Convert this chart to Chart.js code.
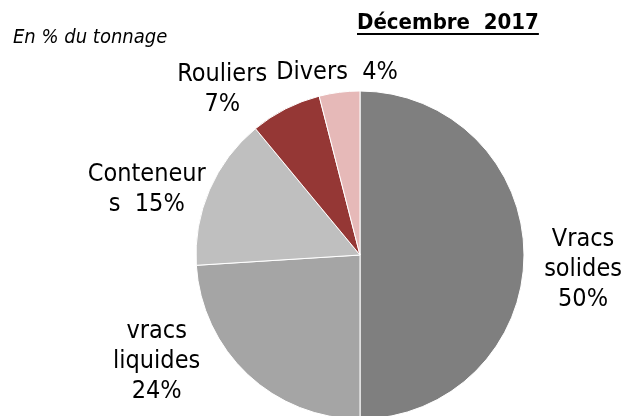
<!DOCTYPE html>
<html>
<head>
<meta charset="utf-8">
<script src="https://cdn.jsdelivr.net/npm/chart.js@4/dist/chart.umd.min.js"></script>
<style>
  html, body { margin: 0; padding: 0; background: #fff; }
  #wrap { position: relative; width: 628px; height: 416px; overflow: hidden; }
</style>
</head>
<body>
<div id="wrap"><canvas id="pie" width="628" height="416"></canvas></div>
<script>
// données : répartition du trafic, décembre 2017
const categories = ['Vracs solides', 'vracs liquides', 'Conteneurs', 'Rouliers', 'Divers'];
const shares = [50, 24, 15, 7, 4];
// découpage des étiquettes comme dans l'original ({v} = pourcentage)
const labelLines = [
    ['Vracs', 'solides', '{v}'],
    ['vracs', 'liquides', '{v}'],
    ['Conteneur', 's  {v}'],
    ['Rouliers', '{v}'],
    ['Divers  {v}']
];
const sliceColors = ['#7f7f7f', '#a5a5a5', '#bfbfbf', '#953735', '#e6b9b8'];

// position des étiquettes, en multiples du rayon par rapport au centre
const labelPos = [[1.36, 0.09], [-1.24, 0.65], [-1.30, -0.40], [-0.84, -1.01], [-0.14, -1.11]];
const FONT = '"DejaVu Sans Condensed", "DejaVu Sans", sans-serif';

const sliceLabels = {
    id: 'sliceLabels',
    afterDatasetsDraw(chart) {
        const ctx = chart.ctx;
        const arcs = chart.getDatasetMeta(0).data;
        ctx.save();
        ctx.fillStyle = '#000';
        ctx.font = '25px ' + FONT;
        ctx.textAlign = 'center';
        ctx.textBaseline = 'middle';
        arcs.forEach((arc, i) => {
            const lines = labelLines[i].map(l => l.replace('{v}', shares[i] + '%'));
            const cx = arc.x + labelPos[i][0] * arc.outerRadius;
            const cy = arc.y + labelPos[i][1] * arc.outerRadius;
            const lh = 30;
            lines.forEach((l, k) => {
                ctx.fillText(l, cx, cy + (k - (lines.length - 1) / 2) * lh);
            });
        });

        // titres
        ctx.textAlign = 'left';
        ctx.textBaseline = 'alphabetic';
        ctx.font = 'italic 20px ' + FONT;
        ctx.fillText('En % du tonnage', 13, 43);
        ctx.font = 'bold 22px ' + FONT;
        const t = 'Décembre  2017';
        ctx.fillText(t, 357, 29);
        const w = ctx.measureText(t).width;
        ctx.fillRect(357, 33, w, 2);
        ctx.restore();
    }
};

new Chart(document.getElementById('pie'), {
    type: 'pie',
    data: {
        labels: categories,
        datasets: [{
            data: shares,
            backgroundColor: sliceColors,
            borderColor: '#ffffff',
            borderWidth: 1,
            radius: 164
        }]
    },
    options: {
        responsive: false,
        animation: false,
        layout: { padding: { left: 196, right: 104, top: 94, bottom: 0 } },
        plugins: {
            legend: { display: false },
            tooltip: { enabled: false }
        }
    },
    plugins: [sliceLabels]
});
</script>
</body>
</html>
